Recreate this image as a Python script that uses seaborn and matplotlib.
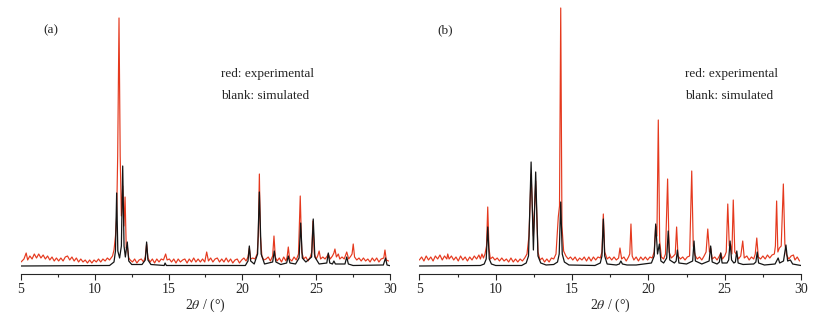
import pandas as pd
import seaborn as sns
import matplotlib
matplotlib.use('Agg')
import matplotlib.pylab as plt
from matplotlib.ticker import MultipleLocator

# (a) experimental pattern (2theta, intensity)
exp_a_x = [5.0, 5.2, 5.35, 5.45, 5.6, 5.75, 5.9, 6.05, 6.2, 6.35, 6.5, 6.65, 6.8, 6.95, 7.1,
           7.25, 7.4, 7.55, 7.7, 7.85, 8.0, 8.15, 8.3, 8.45, 8.6, 8.75, 8.9, 9.05, 9.2, 9.35,
           9.5, 9.65, 9.8, 9.95, 10.1, 10.25, 10.4, 10.55, 10.7, 10.85, 11.0, 11.1, 11.2, 11.3,
           11.4, 11.48, 11.55, 11.64, 11.72, 11.8, 11.89, 11.97, 12.05, 12.13, 12.2, 12.3, 12.4,
           12.55, 12.7, 12.85, 13.0, 13.15, 13.3, 13.42, 13.51, 13.6, 13.75, 13.9, 14.05, 14.2,
           14.35, 14.5, 14.65, 14.8, 14.9, 15.05, 15.2, 15.35, 15.5, 15.65, 15.8, 15.95, 16.1,
           16.25, 16.4, 16.55, 16.7, 16.85, 17.0, 17.15, 17.3, 17.45, 17.58, 17.7, 17.85, 18.0,
           18.15, 18.3, 18.45, 18.6, 18.75, 18.9, 19.05, 19.2, 19.35, 19.5, 19.65, 19.8, 19.95,
           20.1, 20.25, 20.38, 20.47, 20.56, 20.7, 20.85, 21.0, 21.08, 21.15, 21.22, 21.32, 21.45,
           21.6, 21.75, 21.9, 22.05, 22.14, 22.23, 22.35, 22.5, 22.65, 22.8, 22.95, 23.03, 23.11,
           23.2, 23.35, 23.5, 23.65, 23.8, 23.92, 24.02, 24.15, 24.3, 24.45, 24.6, 24.7, 24.78,
           24.87, 25.0, 25.1, 25.2, 25.3, 25.45, 25.6, 25.75, 25.82, 25.95, 26.1, 26.2, 26.27,
           26.37, 26.5, 26.6, 26.75, 26.9, 27.07, 27.2, 27.35, 27.43, 27.51, 27.6, 27.75, 27.9,
           28.05, 28.2, 28.35, 28.5, 28.65, 28.8, 28.95, 29.1, 29.25, 29.4, 29.58, 29.66, 29.75,
           29.9]
exp_a_y = [4, 7, 13, 6, 10, 7, 12, 8, 12, 8, 11, 7, 10, 6, 9,
           5, 8, 5, 8, 5, 9, 10, 6, 9, 5, 8, 4, 7, 4, 6,
           3, 6, 3, 6, 4, 7, 4, 7, 5, 8, 6, 8, 10, 16,
           30, 50, 110, 248, 110, 50, 80, 40, 69, 18, 20, 8, 6,
           4, 7, 3, 6, 7, 4, 9, 22, 8, 4, 7, 3, 7,
           4, 7, 6, 12, 6, 7, 4, 7, 3, 7, 4, 6, 7,
           3, 7, 4, 8, 4, 7, 4, 7, 4, 14, 5, 8, 4,
           7, 8, 4, 7, 4, 8, 4, 7, 3, 6, 7, 3, 6,
           8, 5, 9, 18, 7, 8, 7, 12, 30, 92, 30, 10, 6,
           7, 9, 5, 10, 30, 9, 5, 8, 4, 9, 5, 9, 19,
           7, 5, 9, 6, 12, 70, 14, 7, 9, 5, 9, 14, 45,
           12, 7, 10, 15, 7, 9, 7, 10, 12, 7, 10, 13, 17,
           9, 12, 7, 9, 7, 14, 7, 10, 12, 22, 9, 6, 8,
           5, 8, 5, 7, 4, 8, 5, 8, 4, 7, 8, 16, 6,
           5]

# (a) simulated pattern
sim_a_x = [5.0, 11.0, 11.3, 11.4, 11.48, 11.56, 11.68, 11.8, 11.89, 11.98, 12.07, 12.2, 12.3,
           12.5, 13.2, 13.42, 13.51, 13.6, 13.8, 14.7, 14.76, 14.85, 20.2, 20.38, 20.47, 20.56,
           20.8, 21.03, 21.15, 21.27, 21.5, 22.05, 22.16, 22.27, 22.6, 23.0, 23.11, 23.22, 23.6,
           23.84, 23.95, 24.06, 24.3, 24.69, 24.8, 24.91, 25.2, 25.72, 25.82, 25.92, 26.1, 26.2,
           26.3, 26.95, 27.07, 27.18, 27.5, 29.55, 29.7, 29.8, 30.0]
sim_a_y = [0, 0.5, 4, 15, 73, 15, 8, 20, 100, 20, 9, 24, 5,
           1.5, 1.5, 6, 24, 6, 1.5, 0.5, 3, 0.5, 0.5, 5, 20, 5,
           2, 12, 74, 12, 2, 4, 15, 4, 1.5, 3, 10, 3, 2,
           8, 43, 8, 4, 9, 47, 9, 2, 3, 13, 3, 2, 5,
           2, 2, 9, 2, 0.5, 1, 8, 1, 0.3]

# (b) experimental pattern
exp_b_x = [5.0, 5.15, 5.3, 5.45, 5.6, 5.75, 5.9, 6.05, 6.2, 6.35, 6.5, 6.65, 6.8, 6.86, 6.95,
           7.1, 7.25, 7.4, 7.55, 7.7, 7.85, 8.0, 8.15, 8.3, 8.45, 8.6, 8.75, 8.9, 9.0, 9.1,
           9.2, 9.3, 9.4, 9.48, 9.56, 9.65, 9.8, 9.95, 10.1, 10.25, 10.4, 10.55, 10.7, 10.85,
           11.0, 11.15, 11.3, 11.45, 11.6, 11.75, 11.9, 12.05, 12.18, 12.32, 12.47, 12.62, 12.77,
           12.9, 13.05, 13.2, 13.35, 13.5, 13.65, 13.8, 13.95, 14.1, 14.18, 14.26, 14.34, 14.45,
           14.6, 14.75, 14.9, 15.05, 15.2, 15.35, 15.5, 15.65, 15.8, 15.95, 16.1, 16.25, 16.4,
           16.55, 16.7, 16.85, 16.96, 17.05, 17.14, 17.3, 17.45, 17.6, 17.75, 17.9, 18.05, 18.14,
           18.25, 18.4, 18.55, 18.7, 18.78, 18.86, 18.94, 19.05, 19.2, 19.35, 19.5, 19.65, 19.8,
           19.95, 20.1, 20.25, 20.38, 20.48, 20.56, 20.65, 20.74, 20.85, 21.0, 21.12, 21.26, 21.36,
           21.5, 21.65, 21.76, 21.85, 21.94, 22.1, 22.25, 22.4, 22.55, 22.7, 22.84, 22.94, 23.05,
           23.2, 23.35, 23.5, 23.65, 23.78, 23.89, 24.0, 24.08, 24.18, 24.35, 24.5, 24.65, 24.74,
           24.85, 25.0, 25.1, 25.2, 25.3, 25.38, 25.47, 25.56, 25.66, 25.8, 25.9, 26.05, 26.18,
           26.28, 26.45, 26.6, 26.75, 26.9, 27.0, 27.1, 27.2, 27.35, 27.5, 27.65, 27.8, 27.95,
           28.1, 28.25, 28.32, 28.4, 28.48, 28.58, 28.7, 28.84, 28.94, 29.05, 29.2, 29.35, 29.5,
           29.6, 29.75, 29.9]
exp_b_y = [6, 9, 5, 10, 6, 9, 5, 10, 7, 11, 6, 10, 7, 12, 7,
           10, 6, 9, 5, 10, 6, 9, 5, 9, 6, 10, 7, 11, 7, 12,
           8, 12, 20, 59, 18, 7, 9, 6, 8, 5, 8, 5, 7, 4,
           8, 4, 7, 4, 7, 5, 8, 12, 30, 92, 30, 85, 14,
           6, 8, 4, 7, 4, 8, 7, 12, 49, 60, 258, 40, 15,
           10, 7, 9, 6, 9, 5, 8, 6, 9, 5, 9, 5, 9,
           6, 9, 8, 14, 52, 14, 7, 9, 6, 9, 6, 8, 18,
           7, 9, 5, 9, 12, 42, 10, 6, 9, 5, 9, 6, 9,
           6, 9, 8, 14, 40, 30, 146, 25, 9, 7, 12, 87, 14,
           8, 10, 12, 39, 10, 7, 9, 6, 9, 10, 95, 20, 11,
           7, 9, 6, 10, 14, 37, 14, 18, 7, 9, 6, 10, 13,
           7, 10, 14, 62, 20, 22, 12, 66, 14, 11, 7, 10, 25,
           8, 10, 6, 9, 7, 12, 28, 9, 7, 10, 7, 11, 8,
           11, 12, 20, 65, 14, 18, 20, 82, 22, 11, 7, 10, 11,
           6, 9, 5]

# (b) simulated pattern
sim_b_x = [5.0, 9.0, 9.25, 9.38, 9.48, 9.58, 9.72, 10.0, 11.7, 12.0, 12.15, 12.32, 12.47, 12.62,
           12.77, 12.95, 13.3, 13.8, 14.05, 14.16, 14.26, 14.36, 14.5, 14.8, 16.5, 16.85, 16.96,
           17.05, 17.14, 17.3, 17.9, 18.1, 18.2, 18.3, 18.6, 19.2, 20.2, 20.38, 20.48, 20.6, 20.72,
           20.82, 21.0, 21.2, 21.3, 21.4, 21.7, 21.82, 21.9, 22.0, 22.5, 22.9, 22.99, 23.08, 23.5,
           23.98, 24.08, 24.18, 24.5, 24.65, 24.74, 24.83, 25.15, 25.26, 25.35, 25.45, 25.6, 25.7,
           25.79, 25.88, 26.2, 26.9, 27.04, 27.13, 27.22, 27.6, 28.3, 28.5, 28.6, 28.85, 29.01,
           29.12, 29.3, 29.45, 29.8, 30.0]
sim_b_y = [0, 0.5, 2, 7, 39, 7, 2, 0.5, 0.5, 3, 10, 104, 16, 94,
           10, 3, 1, 1.5, 4, 12, 64, 12, 4, 1, 0.5, 3, 10,
           47, 10, 2, 1, 2, 5, 2, 1, 1, 3, 10, 42, 12, 22,
           5, 3, 8, 35, 6, 3, 5, 16, 3, 2, 5, 25, 5, 2,
           5, 20, 4, 2, 4, 13, 3, 3, 6, 25, 6, 3, 4,
           15, 3, 1.5, 2, 4, 14, 3, 1, 2, 8, 3, 5, 21,
           5, 6, 2, 1, 0.5]

panel_labels = ['(a)', '(b)']
legend_lines = ['red: experimental', 'blank: simulated']
x_ticks = [5, 10, 15, 20, 25, 30]

sns.set_style('ticks')
plt.rcParams['font.family'] = ['Liberation Serif', 'DejaVu Serif']
plt.rcParams['mathtext.fontset'] = 'stix'

fig = plt.figure(figsize=(8.34, 3.24), dpi=100)
axes = [fig.add_axes([0.0252, 0.1534, 0.4424, 0.8343]),
        fig.add_axes([0.5028, 0.1534, 0.4577, 0.8343])]
panels = [(exp_a_x, exp_a_y, sim_a_x, sim_a_y, 18.55, 6.5),
          (exp_b_x, exp_b_y, sim_b_x, sim_b_y, 22.4, 6.2)]

for ax, label, (ex, ey, sx, sy, tx, lx) in zip(axes, panel_labels, panels):
    exp = pd.DataFrame({'x': ex, 'y': ey})
    sim = pd.DataFrame({'x': sx, 'y': sy})
    sns.lineplot(x='x', y='y', data=exp, ax=ax, color='#e5391e', lw=0.85,
                 estimator=None, sort=False)
    sns.lineplot(x='x', y='y', data=sim, ax=ax, color='#151515', lw=0.9,
                 estimator=None, sort=False)
    ax.set_xlim(5, 30)
    ax.set_ylim(-8.3, 262)
    ax.set_xticks(x_ticks)
    ax.xaxis.set_minor_locator(MultipleLocator(2.5))
    ax.tick_params(axis='x', which='major', length=4, width=0.8, labelsize=10, pad=2)
    ax.tick_params(axis='x', which='minor', length=2.5, width=0.8)
    ax.set_yticks([])
    for side in ['left', 'right', 'top']:
        ax.spines[side].set_visible(False)
    ax.spines['bottom'].set_linewidth(0.8)
    ax.set_xlabel(r'2$\theta$ / (°)', fontsize=10, labelpad=1)
    ax.set_ylabel('')
    ax.text(lx, 236, label, fontsize=9.5, va='center', ha='left')
    ax.text(tx, 192, legend_lines[0], fontsize=9.5, va='center', ha='left')
    ax.text(tx, 170, legend_lines[1], fontsize=9.5, va='center', ha='left')

plt.savefig('out.png', dpi=100)
